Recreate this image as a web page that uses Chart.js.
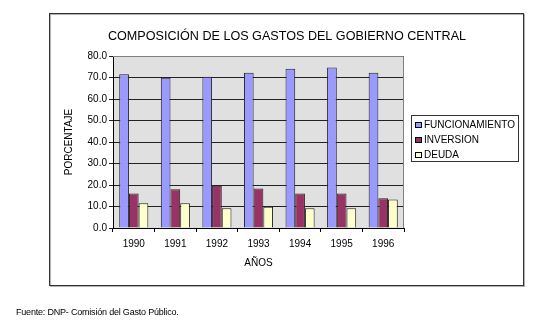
<!DOCTYPE html>
<html>
<head>
<meta charset="utf-8">
<script src="https://cdn.jsdelivr.net/npm/chart.js@4"></script>
<style>
  body { margin: 0; background: #fff; }
  #wrap { position: relative; width: 539px; height: 325px; }
  #fuente { position: absolute; left: 16px; top: 307px; font: 9px "Liberation Sans", Arial, sans-serif; color: #000; letter-spacing: -0.2px; }
</style>
</head>
<body>
<div id="wrap">
  <canvas id="grafico" width="539" height="325"></canvas>
  <div id="fuente">Fuente: DNP- Comisión del Gasto Público.</div>
</div>
<script>
// datos
const anios = ['1990', '1991', '1992', '1993', '1994', '1995', '1996'];
const funcionamiento = [71.5, 69.9, 70.4, 72.2, 74.1, 74.7, 72.2];
const inversion = [16.1, 18.0, 19.7, 18.4, 16.1, 16.1, 13.8];
const deuda = [11.5, 11.5, 9.2, 9.9, 9.2, 9.2, 13.3];
const ticksY = [0, 10, 20, 30, 40, 50, 60, 70, 80];

const fuente = '"Liberation Sans", Arial, sans-serif';

// marco, fondo gris, titulo y leyenda
const decoracion = {
    id: 'decoracion',
    beforeDraw(chart) {
        const ctx = chart.ctx;
        const a = chart.chartArea;
        ctx.save();
        // marco exterior con sombra
        ctx.strokeStyle = '#b0b0b0';
        ctx.lineWidth = 1;
        ctx.strokeRect(50.5, 14.5, 474, 272);
        ctx.strokeStyle = '#333';
        ctx.strokeRect(49.5, 13.5, 474, 272);
        // fondo del area
        ctx.fillStyle = '#e0e0e0';
        ctx.fillRect(a.left, a.top, a.right - a.left, a.bottom - a.top);
        ctx.restore();
    },
    afterDatasetsDraw(chart) {
        const ctx = chart.ctx;
        const a = chart.chartArea;
        ctx.save();
        ctx.strokeStyle = '#808080';
        ctx.lineWidth = 1;
        ctx.beginPath();
        ctx.moveTo(a.left, a.top + 0.5);
        ctx.lineTo(a.right - 0.5, a.top + 0.5);
        ctx.lineTo(a.right - 0.5, a.bottom);
        ctx.stroke();

        // titulo
        ctx.fillStyle = '#000';
        ctx.font = '12.6px ' + fuente;
        ctx.textAlign = 'center';
        ctx.textBaseline = 'middle';
        ctx.fillText('COMPOSICIÓN DE LOS GASTOS DEL GOBIERNO CENTRAL', 287, 37);

        // leyenda
        ctx.fillStyle = '#fff';
        ctx.fillRect(411, 115, 108, 47);
        ctx.strokeStyle = '#333';
        ctx.strokeRect(411.5, 115.5, 107, 46);
        ctx.font = '10px ' + fuente;
        ctx.textAlign = 'left';
        chart.data.datasets.forEach((ds, i) => {
            const y = 125 + i * 15;
            ctx.fillStyle = ds.backgroundColor;
            ctx.fillRect(415, y - 3, 7, 6);
            ctx.strokeStyle = '#000';
            ctx.strokeRect(415.5, y - 2.5, 6, 5);
            ctx.fillStyle = '#000';
            ctx.fillText(ds.label, 424, y + 0.5);
        });
        ctx.restore();
    }
};

new Chart(document.getElementById('grafico'), {
    type: 'bar',
    data: {
        labels: anios,
        datasets: [
            { label: 'FUNCIONAMIENTO', data: funcionamiento, backgroundColor: '#9999ff', borderColor: '#222', borderWidth: 1 },
            { label: 'INVERSION', data: inversion, backgroundColor: '#993366', borderColor: '#222', borderWidth: 1 },
            { label: 'DEUDA', data: deuda, backgroundColor: '#ffffcc', borderColor: '#222', borderWidth: 1 }
        ]
    },
    options: {
        responsive: false,
        animation: false,
        devicePixelRatio: 1,
        layout: { padding: { left: 63, right: 135, top: 56, bottom: 52 } },
        plugins: { legend: { display: false }, title: { display: false }, tooltip: { enabled: false } },
        datasets: { bar: { categoryPercentage: 0.7, barPercentage: 1 } },
        scales: {
            x: {
                grid: { offset: true, drawOnChartArea: false, color: '#000', tickLength: 4 },
                border: { color: '#000' },
                ticks: { color: '#000', font: { family: fuente, size: 10 }, padding: 6 },
                title: { display: true, text: 'AÑOS', color: '#000', font: { family: fuente, size: 10 }, padding: { top: 4 } },
                afterFit(s) { s.height = 45; }
            },
            y: {
                min: 0, max: 80,
                afterBuildTicks(s) { s.ticks = ticksY.map(v => ({ value: v })); },
                grid: { color: '#222', tickLength: 4 },
                border: { color: '#000' },
                ticks: { color: '#000', font: { family: fuente, size: 10 }, padding: 2, callback: v => Number(v).toFixed(1) },
                title: { display: true, text: 'PORCENTAJE', color: '#000', font: { family: fuente, size: 10 }, padding: 0 },
                afterFit(s) { s.width = 50; }
            }
        }
    },
    plugins: [decoracion]
});
</script>
</body>
</html>
